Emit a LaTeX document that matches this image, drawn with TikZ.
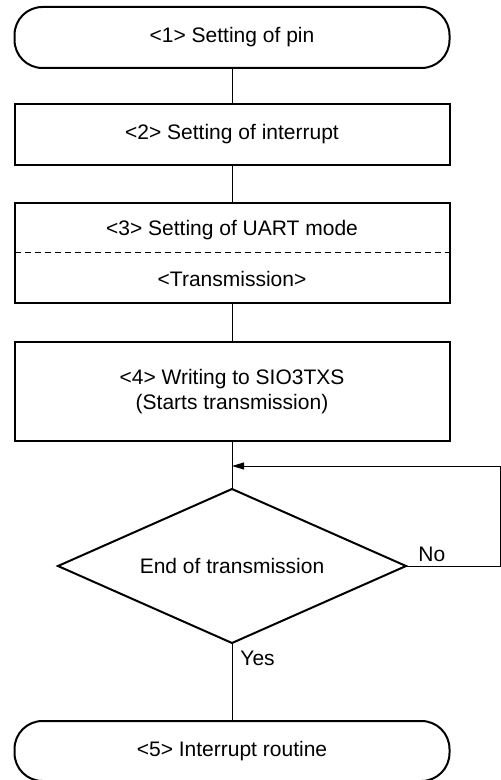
\documentclass[tikz,border=0pt]{standalone}
\usepackage{fontspec}
\setmainfont{Liberation Sans}
\usetikzlibrary{arrows.meta,positioning,calc,shapes.geometric}

\begin{document}
\begin{tikzpicture}[
  font=\fontsize{10.5}{12.5}\selectfont,
  >={Triangle[length=6pt,width=3.5pt]},
  node distance=18pt,
  box/.style={
    draw, line width=1pt, outer sep=0pt,
    align=center, inner sep=2pt,
    minimum width=217.5pt
  },
  term/.style={box, rounded corners=14pt, minimum height=30.5pt},
  proc/.style={box, minimum height=30.5pt},
  decide/.style={
    draw, line width=1pt, diamond, outer sep=0pt, inner sep=0pt,
    minimum width=174pt, minimum height=77pt, aspect=2.26
  },
  lbl/.style={inner sep=0pt},
  arr/.style={line width=0.5pt}
]
  \useasboundingbox (0,0) rectangle (250.5pt,-390pt);

  % Set-up steps
  \node[term] (pin) at (116pt,-18.75pt) {<1> Setting of pin};
  \node[proc, below=18pt of pin] (intp) {<2> Setting of interrupt};
  \node[box, minimum height=50pt, below=19pt of intp] (uart) {};
  \node[lbl] (uartmode) at ($(uart.north)!0.27!(uart.south)$) {<3> Setting of UART mode};
  \node[lbl] (uarttx) at ($(uart.north)!0.76!(uart.south)$) {<Transmission>};
  \draw[line width=0.5pt, dash pattern=on 3pt off 2pt] (uart.west) -- (uart.east);
  \node[box, minimum height=49.5pt, below=19.5pt of uart] (write) {%
    <4> Writing to SIO3TXS\\
    (Starts transmission)};

  % Wait loop
  \node[decide, below=24pt of write] (endtx) {End of transmission};
  \node[term, minimum height=30pt, below=39pt of endtx] (isr) {<5> Interrupt routine};

  \coordinate (join) at ($(write.south)+(0,-12.5pt)$);
  \coordinate (back) at (250pt,0 |- join);

  \draw[arr] (pin) -- (intp);
  \draw[arr] (intp) -- (uart);
  \draw[arr] (uart) -- (write);
  \draw[arr] (write) -- (endtx);
  \draw[arr] (endtx.east) -| (back);
  \draw[arr, ->] (back) -- (join);
  \draw[arr] (endtx) -- (isr);

  \node[lbl, anchor=south west] (no) at ($(endtx.east)+(6pt,2pt)$) {No};
  \node[lbl, anchor=north west] (yes) at ($(endtx.south)+(4pt,-4pt)$) {Yes};

\end{tikzpicture}
\end{document}
